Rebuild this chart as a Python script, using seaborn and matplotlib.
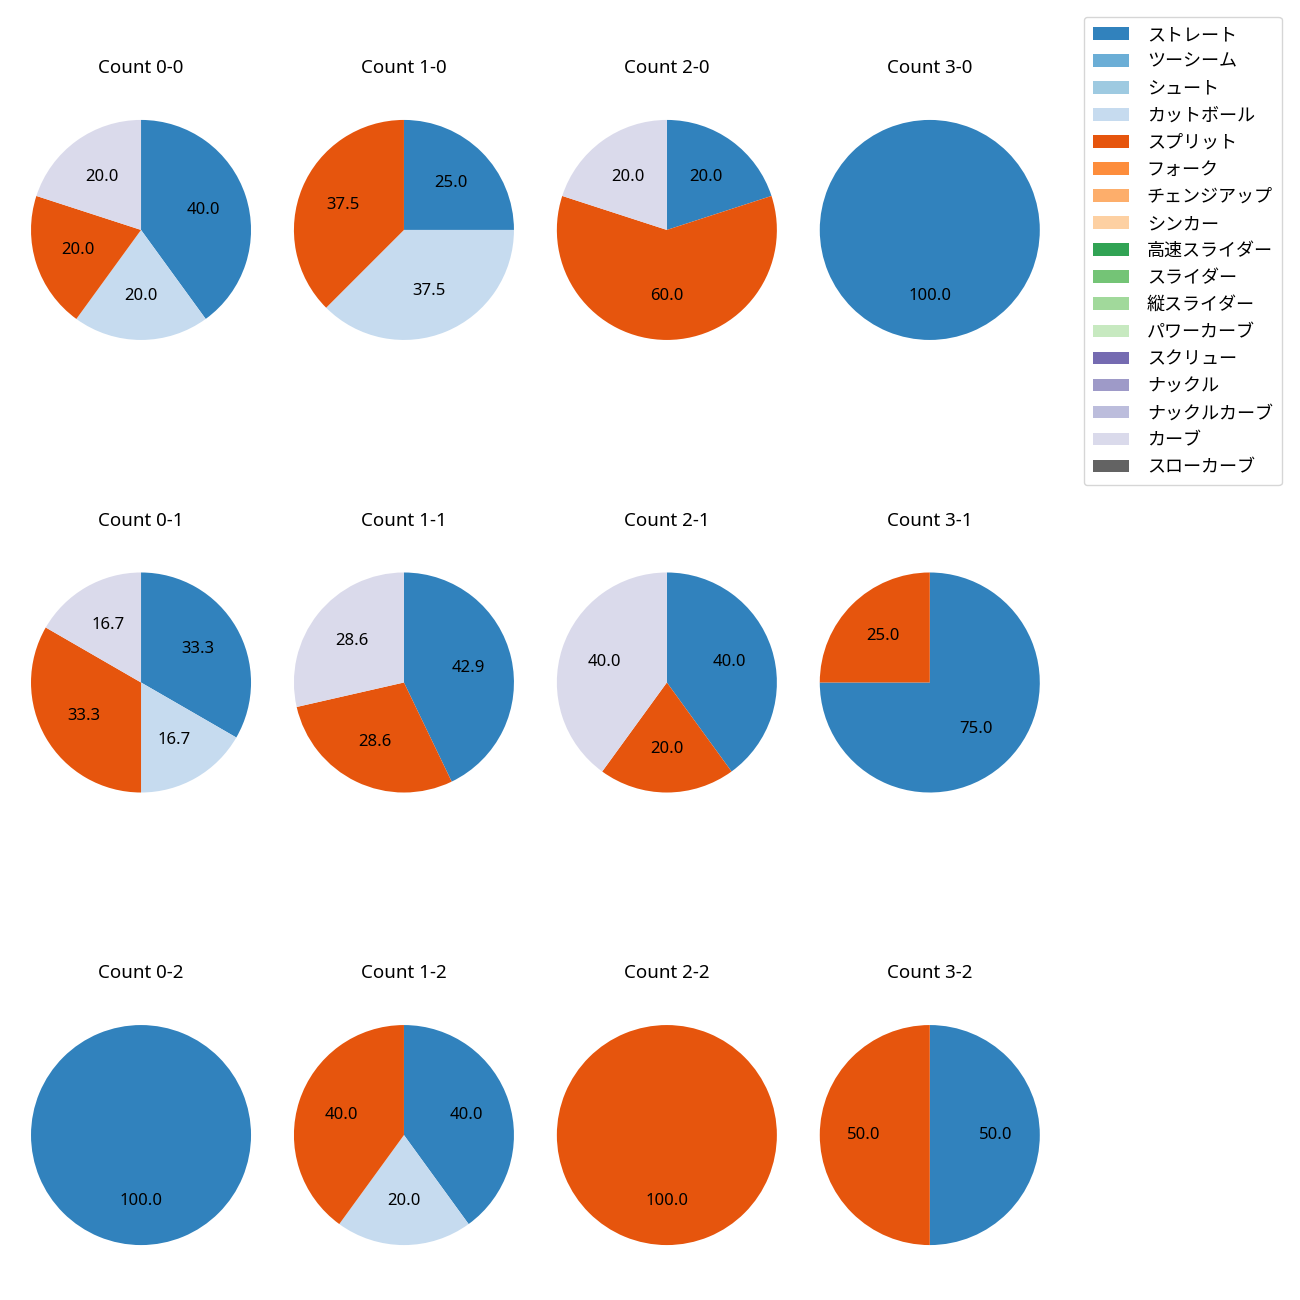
import numpy as np
import seaborn as sns
import matplotlib.pyplot as plt
from matplotlib.patches import Patch

sns.set_theme(style='white')
plt.rcParams['font.family'] = ['Noto Sans', 'Noto Sans CJK JP', 'DejaVu Sans']
plt.rcParams['text.color'] = 'black'

# pitch types (legend order) and colours
pitch_types = ['ストレート', 'ツーシーム', 'シュート', 'カットボール', 'スプリット', 'フォーク',
               'チェンジアップ', 'シンカー', '高速スライダー', 'スライダー', '縦スライダー',
               'パワーカーブ', 'スクリュー', 'ナックル', 'ナックルカーブ', 'カーブ', 'スローカーブ']
colors = sns.color_palette('tab20c', 20)[:17]

# pitch counts per ball-strike count: {pitch: n}
balls = ['0', '1', '2', '3']
strikes = ['0', '1', '2']
counts = {
    '0-0': {'ストレート': 2, 'カットボール': 1, 'スプリット': 1, 'カーブ': 1},
    '1-0': {'ストレート': 2, 'カットボール': 3, 'スプリット': 3},
    '2-0': {'ストレート': 1, 'スプリット': 3, 'カーブ': 1},
    '3-0': {'ストレート': 1},
    '0-1': {'ストレート': 2, 'カットボール': 1, 'スプリット': 2, 'カーブ': 1},
    '1-1': {'ストレート': 3, 'スプリット': 2, 'カーブ': 2},
    '2-1': {'ストレート': 2, 'スプリット': 1, 'カーブ': 2},
    '3-1': {'ストレート': 3, 'スプリット': 1},
    '0-2': {'ストレート': 1},
    '1-2': {'ストレート': 2, 'カットボール': 1, 'スプリット': 2},
    '2-2': {'スプリット': 1},
    '3-2': {'ストレート': 1, 'スプリット': 1},
}

fig, axes = plt.subplots(3, 4, figsize=(13, 13), dpi=100)
fig.subplots_adjust(left=0.0027, right=0.821, top=0.929, bottom=0.021,
                    wspace=-0.044, hspace=0.644)

for i, s in enumerate(strikes):
    for j, b in enumerate(balls):
        ax = axes[i, j]
        key = f'{b}-{s}'
        data = counts[key]
        vals = [data[p] for p in pitch_types if p in data]
        cols = [colors[k] for k, p in enumerate(pitch_types) if p in data]
        ax.pie(vals, colors=cols, startangle=90, counterclock=False,
               autopct='%.1f', textprops={'fontsize': 12, 'color': 'black'},
               wedgeprops={'linewidth': 0})
        ax.set_title(f'Count {key}', fontsize=13.5, pad=14, color='black')

handles = [Patch(facecolor=colors[k], edgecolor='none', label=p) for k, p in enumerate(pitch_types)]
fig.legend(handles=handles, loc='upper right', bbox_to_anchor=(0.993, 0.994),
           fontsize=13, labelspacing=0.5, handletextpad=1.0, borderpad=0.5)

fig.savefig('out.png', dpi=100)
